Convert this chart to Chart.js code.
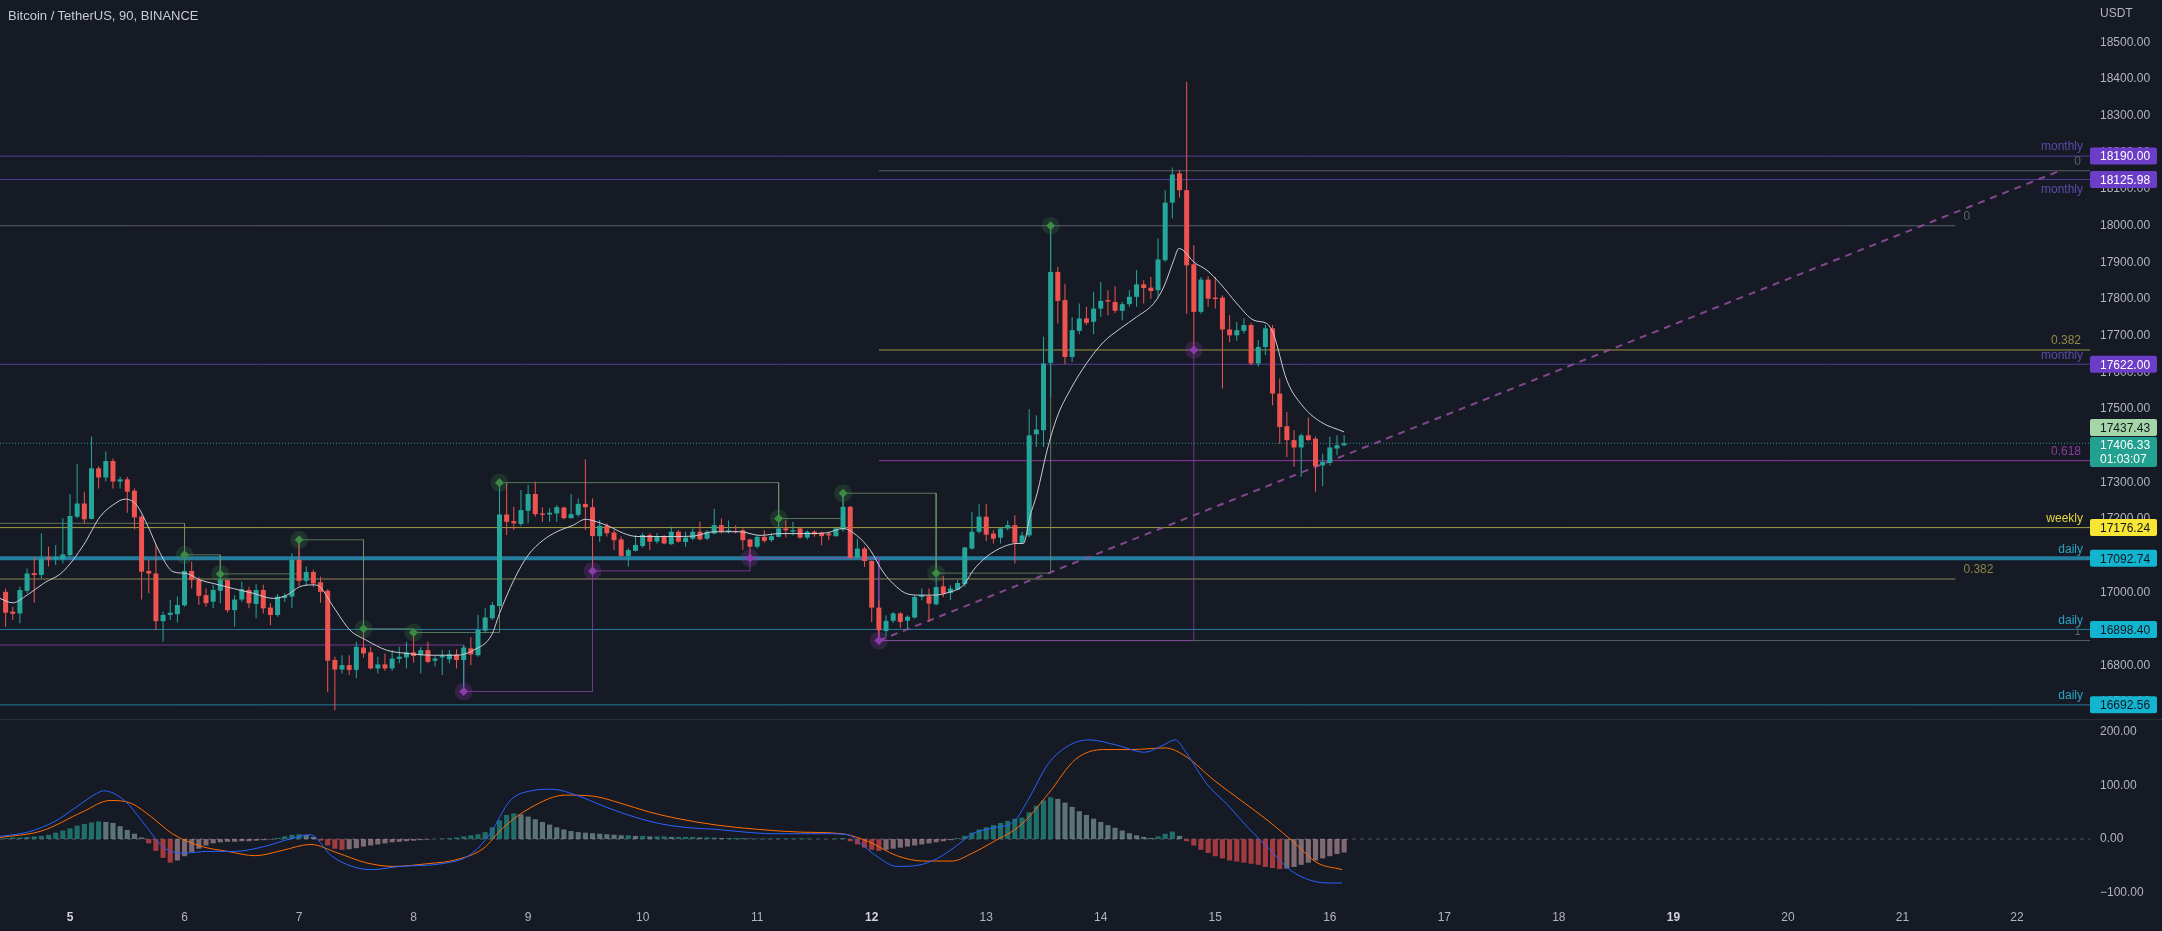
<!DOCTYPE html>
<html><head><meta charset="utf-8">
<script src="https://cdn.jsdelivr.net/npm/chart.js@4.4.1/dist/chart.umd.min.js"></script>
<style>
html,body{margin:0;padding:0;background:#161a25;width:2162px;height:931px;overflow:hidden}
#p1{position:absolute;left:0;top:0;width:2162px;height:719px}
#p2{position:absolute;left:0;top:719px;width:2162px;height:212px}
#sep{position:absolute;left:0;top:719px;width:2162px;height:1px;background:#2a2e39}
#title{position:absolute;left:8px;top:8px;font:13px "Liberation Sans",Arial,sans-serif;color:#c8cbd3}
#cur{position:absolute;left:2100px;top:6px;font:12px "Liberation Sans",Arial,sans-serif;color:#b2b5be}
</style></head><body>
<div id="p1"><canvas id="c1"></canvas></div>
<div id="p2"><canvas id="c2"></canvas></div>
<div id="sep"></div>
<div id="title">Bitcoin / TetherUS, 90, BINANCE</div>
<div id="cur">USDT</div>
<script>
// ---------------- DATA ----------------
const DAY_INDEX = [9,25,41,57,73,89,105,121,137,153,169,185,201,217,233,249,265,281];
const DAY_LABELS = ['5','6','7','8','9','10','11','12','13','14','15','16','17','18','19','20','21','22'];
const WEEK_START = [9,121,233];
const PRICE_TICKS = [16700,16800,16900,17000,17100,17200,17300,17400,17500,17600,17700,17800,17900,18000,18100,18200,18300,18400,18500];
const MACD_TICKS = [-100,0,100,200];

const OPEN = [17001,16947,16942,17004,17052,17047,17095,17090,17090,17101,17206,17242,17200,17338,17313,17358,17302,17308,17277,17206,
17058,17051,16921,16938,16940,16964,17058,17035,16992,16974,17004,17033,16951,16980,17006,16968,17006,16958,16938,16984,
16988,17088,17031,17055,17027,17004,16815,16789,16801,16788,16849,16836,16792,16803,16792,16818,16822,16836,16828,16842,
16813,16822,16817,16830,16815,16847,16828,16895,16929,16962,17212,17194,17186,17222,17268,17215,17212,17215,17231,17202,
17211,17241,17232,17153,17181,17163,17144,17099,17113,17126,17156,17138,17153,17131,17165,17137,17146,17165,17146,17160,
17183,17165,17167,17169,17144,17124,17151,17142,17151,17174,17165,17174,17149,17165,17162,17160,17153,17171,17233,17094,
17119,17085,16958,16894,16922,16942,16922,16931,16987,16989,16967,17016,16998,17007,17022,17119,17165,17206,17160,17149,
17174,17183,17135,17155,17431,17442,17626,17874,17797,17642,17713,17747,17738,17774,17797,17792,17768,17786,17806,17840,
17831,17824,17906,18063,18143,18097,17895,17765,17853,17804,17804,17717,17701,17713,17729,17624,17669,17720,17542,17453,
17415,17395,17428,17419,17346,17353,17392,17401];
const HIGH = [17010,16960,17015,17065,17097,17161,17124,17129,17202,17268,17350,17274,17425,17344,17384,17365,17315,17315,17283,17211,
17088,17129,16947,16979,16988,17097,17083,17042,17010,17020,17056,17035,16992,17029,17015,17022,17020,16970,16995,16997,
17106,17142,17070,17061,17042,17008,16824,16828,16828,16865,16895,16851,16824,16833,16842,16851,16865,16883,16851,16865,
16828,16842,16842,16844,16856,16877,16938,16956,16974,17297,17297,17233,17279,17293,17302,17232,17229,17238,17233,17268,
17256,17363,17256,17197,17188,17170,17152,17120,17156,17162,17161,17161,17156,17179,17170,17165,17174,17192,17169,17228,
17201,17196,17183,17174,17146,17155,17169,17160,17192,17196,17192,17178,17169,17169,17165,17165,17176,17269,17235,17146,
17124,17087,16978,16937,16946,16946,16937,16992,17010,17010,17046,17044,17019,17033,17124,17219,17240,17240,17169,17178,
17196,17210,17165,17499,17483,17697,18000,17888,17842,17751,17788,17779,17820,17847,17824,17835,17792,17824,17879,17851,
17860,17965,18097,18159,18152,18393,17947,17860,17862,17860,17810,17756,17738,17747,17735,17688,17729,17729,17583,17492,
17442,17433,17477,17425,17378,17424,17428,17428];
const LOW = [16906,16924,16915,16997,16971,17038,17070,17074,17079,17097,17202,17188,17199,17283,17302,17283,17283,17217,17172,16980,
16997,16897,16865,16924,16917,16960,17010,16965,16960,16956,16970,16944,16906,16974,16956,16929,16942,16910,16933,16974,
16956,17017,17017,17015,16971,16728,16678,16778,16774,16765,16822,16789,16778,16786,16786,16806,16792,16808,16778,16806,
16797,16774,16806,16792,16733,16801,16824,16888,16924,16960,17156,17170,17181,17188,17206,17192,17192,17192,17199,17202,
17206,17170,17056,17138,17152,17115,17097,17070,17111,17122,17115,17133,17131,17129,17135,17124,17142,17142,17142,17158,
17160,17160,17160,17116,17087,17119,17135,17137,17149,17149,17155,17146,17144,17151,17128,17142,17151,17165,17092,17092,
17069,16919,16869,16878,16916,16903,16901,16928,16978,16919,16964,16987,16978,17005,17014,17116,17160,17140,17133,17133,
17169,17078,17133,17150,17396,17396,17533,17733,17622,17628,17704,17729,17704,17751,17756,17762,17742,17779,17779,17788,
17801,17804,17901,18020,18077,17760,17660,17760,17779,17774,17556,17683,17686,17706,17619,17615,17647,17510,17405,17369,
17342,17315,17413,17274,17289,17346,17374,17398];
const CLOSE = [16944,16941,17006,17051,17047,17092,17090,17095,17103,17208,17242,17199,17338,17313,17358,17302,17308,17274,17204,17056,
17051,16921,16938,16944,16965,17058,17033,16990,16970,17006,17035,16951,16980,17008,16970,17006,16956,16938,16988,16990,
17088,17031,17055,17024,17001,16813,16789,16801,16788,16851,16833,16792,16803,16792,16819,16824,16836,16826,16842,16810,
16819,16828,16831,16815,16849,16830,16897,16931,16965,17212,17192,17188,17224,17268,17213,17211,17217,17232,17202,17213,
17241,17232,17153,17181,17161,17142,17099,17115,17129,17156,17138,17153,17133,17165,17138,17149,17165,17144,17165,17183,
17165,17169,17164,17142,17124,17151,17140,17153,17174,17169,17169,17149,17165,17158,17153,17155,17174,17233,17094,17119,
17085,16958,16896,16922,16942,16919,16933,16987,16992,16969,17014,16996,17010,17025,17122,17165,17206,17157,17146,17174,
17183,17135,17155,17428,17444,17624,17874,17795,17642,17715,17747,17735,17774,17795,17793,17768,17786,17806,17840,17830,
17822,17908,18063,18140,18097,17892,17765,17853,17801,17800,17717,17701,17715,17729,17624,17669,17720,17542,17451,17415,
17395,17428,17415,17344,17356,17395,17401,17406.33];

const EMA_K = [-0.8,1,3,5.3,8,10.9,13.2,15,16.7,18.3,19.7,21.6,23.4,25.3,27.2,29,31.8,34.6,37.4,39.3,41.1,43,43.9,45.8,48.1,50.4,53.2,56,59.8,63,65.4,67.9,69,71,73,75.1,77,79.3,81,82.6,84.4,86.3,88.2,91,93.3,96.1,98.9,102.6,105.4,108.2,112,114.7,117,118.9,120.8,122.6,124.5,125.9,127.8,129.6,131.5,133.8,135.2,137,139.4,141.3,142.2,143.1,144.1,145.5,146.9,148.7,151,153.4,155.7,158,160.4,161.8,163.2,163.9,164.5,166,167.8,169.7,172,174.4,176.2,177.1,179,181.3,183.7,187];
const EMA_V = [16983,16971,16992,17024,17056,17129,17206,17238,17254,17238,17188,17106,17056,17051,17033,17024,17010,16997,16983,16992,17015,17020,17015,16960,16897,16869,16842,16833,16828,16828,16842,16883,16942,17033,17101,17142,17165,17183,17199,17192,17179,17161,17152,17152,17152,17153,17165,17165,17155,17160,17160,17162,17174,17155,17115,17055,17014,16996,16992,16992,16998,17019,17060,17096,17124,17133,17133,17206,17269,17387,17478,17551,17624,17683,17719,17751,17788,17833,17906,17938,17933,17901,17879,17842,17788,17742,17733,17706,17578,17506,17465,17437.43];

const LEVEL_PRICES = [18190.00,18125.98,17622.00,17176.24,17092.74,16898.40,16692.56];
const LEVEL_NAMES = ['monthly','monthly','monthly','weekly','daily','daily','daily'];
const LAST_PRICE = 17406.33;
const EMA_LAST = 17437.43;
const COUNTDOWN = '01:03:07';

const FIB1_PRICES = [18000,17036];
const FIB1_LABELS = ['0','0.382'];
const FIB1_RANGE = [-0.78,272.4];
const FIB2_PRICES = [18150,17661,17359,16868];
const FIB2_LABELS = ['0','0.382','0.618','1'];
const FIB2_RANGE = [122,291.2];

const GREEN_START = 17188;
const GREEN_K = [25,30,41,50,57,69,108,117,130,146];
const GREEN_P = [17102,17050,17143,16900,16890,17299,17201,17270,17052,18000];
const PURPLE_START = 16856;
const PURPLE_K = [64,82,104,122,166];
const PURPLE_P = [16729,17058,17093,16868,17661];
const TREND_K = [122,287];
const TREND_P = [16868,18150];

const HIST = [2,3,3,4,5,6, 8,12,16,20,25, 28,31,33,32,30, 24,17,10,3, -8,-22,-35,-44,-40, -32,-24,-18,-12,-8,
-6,-5,-5,-4,-4,-3,-2,-1, 2,5,8,9,8, 4,-3,-12,-18, -20,-19,-17,-14,-12, -10,-8,-6,-5,-4,-3,-2,-1,0,
1,2,3,5,7,9, 13,22,35,45,48,46, 42,37,32,27,22,18,15, 13,12,11,10,9,8,7,7,6,6,5,
5,5,4,4,4,4,3,3,3,2,2,2,2,1,1,1,1,1,1,1, 1,1,0,0,0,1,2, -4,-10,-16,-20,-22,-20,-18,
-16,-14,-12,-10,-8,-6,-4,-2, 2,6,12,18,22,26,30,34, 38,40,50,62,72,78, 75,68,60,52,45,38,32,
26,21,16,11,7,4,2, 5,10,14, 6,-4,-12, -20,-26,-32,-36,-40,-42,-44,-46,-48,
-52,-54,-56,-55,-52,-48,-44,-40, -36,-32,-28,-25];
const MACD_K = [-0.78,3.1,6.9,9.8,12.7,13.7,16.6,19.5,22.3,25.2,28.1,32,35.8,39.7,42.6,45.5,48.4,51.2,55.1,60.9,64.7,67.6,70.5,73.4,76.3,80.1,84,87.9,91.7,95.6,99.4,103.3,107.1,111,114.8,117.7,119.6,121.6,124.5,127.4,130.2,133.1,135.1,138,140.9,142.8,145.7,148.6,151.4,155.3,159.1,161.7,163.4,164.9,167.8,170.7,173.6,176.5,179.4,182.3,185.2,186.7];
const MACD_V = [5,13,33,59,85,90,72,26,-18,-26,-23,-23,-15,0,8,-31,-51,-57,-51,-46,-31,8,72,90,93,80,59,41,28,21,18,13,10,10,10,8,-10,-31,-51,-49,-36,-10,10,21,33,72,141,175,185,175,162,175,185,162,103,64,21,-18,-57,-77,-82,-82];
const SIG_K = [-0.78,5,10.8,14.6,17.5,20.4,23.3,27.2,31,34.9,38.7,42.6,46.4,50.3,54.1,58.9,62.8,66.7,69.5,73.4,78.2,82.1,85.9,89.8,93.6,99.4,105.2,111,116.8,120.6,124.5,128.3,132.2,135.1,138,141.8,145.7,149.5,153.4,157.2,162,164.9,168.8,172.6,176.5,180.3,183.2,186.7];
const SIG_V = [3,15,51,72,67,41,10,-13,-23,-31,-21,-10,-26,-44,-51,-46,-39,-18,21,59,82,80,67,51,39,26,18,13,10,-5,-31,-41,-41,-26,-5,26,85,149,167,167,170,154,110,72,33,-10,-44,-57];

// ---------------- VIEW ----------------
const X_MIN = -0.78, X_MAX = 291.2;
const P_MIN = 16654, P_MAX = 18616;
const M_MIN = -123, M_MAX = 224;
const UP = '#26a69a', DOWN = '#ef5350';
const FONT = '"Liberation Sans", Arial, sans-serif';
Chart.defaults.font.family = FONT;
Chart.defaults.font.size = 12;
Chart.defaults.animation = false;

const hline = (p, a, b, color, width, dash, order) => ({
  type:'line', data:[{x:a,y:p},{x:b,y:p}], borderColor:color, borderWidth:width||1,
  borderDash:dash||[], pointRadius:0, order:order||10, tension:0
});
const step = (start, ks, ps) => {
  const pts = [{x:X_MIN,y:start}]; let prev = start;
  ks.forEach((k,i)=>{ pts.push({x:k,y:prev}); pts.push({x:k,y:ps[i]}); prev = ps[i]; });
  return pts;
};

const idx = OPEN.map((_,i)=>i);
const candleColor = idx.map(i => CLOSE[i] >= OPEN[i] ? UP : DOWN);

const xScale = (show) => ({
  type:'linear', min:X_MIN, max:X_MAX, offset:false, display:show,
  grid:{display:false, drawTicks:false, offset:false}, border:{display:false},
  afterBuildTicks: sc => { sc.ticks = DAY_INDEX.map(v=>({value:v})); },
  afterFit: sc => { if (show) sc.height = 26; sc.paddingLeft = 0; sc.paddingRight = 0; },
  ticks:{ autoSkip:false, maxRotation:0, padding:5,
    callback:(v,i)=>DAY_LABELS[i],
    color: c => (c.tick && WEEK_START.includes(c.tick.value)) ? '#d1d4dc' : '#b2b5be',
    font: c => ({size:12, family:FONT, weight:(c.tick && WEEK_START.includes(c.tick.value)) ? 'bold':'normal'})
  }
});
const yScale = (min, max, ticks, fmt) => ({
  type:'linear', position:'right', min, max, beginAtZero:false,
  grid:{display:false, drawTicks:true, tickLength:10}, border:{display:false},
  afterFit: s => { s.width = 72; s.paddingTop = 0; s.paddingBottom = 0; },
  afterBuildTicks: s => { s.ticks = ticks.map(v=>({value:v})); },
  ticks:{ color:'#b2b5be', padding:0, autoSkip:false, callback: fmt }
});

const levelStyle = {
  monthly:{line:'rgba(103,74,190,0.75)', text:'#5b4aa8', box:'#6c3ec8', fg:'#ffffff'},
  weekly:{line:'rgba(214,204,70,0.75)', text:'#e3d53c', box:'#f7e634', fg:'#131722'},
  daily:{line:'rgba(40,150,190,0.8)', text:'#2aa5c4', box:'#13b4d0', fg:'#131722'}
};
const levelWidth = [1,1,1,1,4,1,1];
const fib1Colors = ['rgba(120,123,134,0.7)','rgba(170,160,100,0.8)'];
const fib2Colors = ['rgba(120,123,134,0.7)','rgba(190,180,70,0.8)','rgba(160,60,170,0.9)','rgba(120,123,134,0.7)'];
const fib2Text = ['#5d606b','#8f8a46','#8e3a9a','#5d606b'];
const fib1Text = ['#5d606b','#8a8440'];

const datasets1 = [];
datasets1.push({type:'bar', data: idx.map(i=>({x:i, y:[LOW[i],HIGH[i]]})), backgroundColor:candleColor, grouped:false, maxBarThickness:1, order:3});
datasets1.push({type:'bar', data: idx.map(i=>({x:i, y:[Math.min(OPEN[i],CLOSE[i]), Math.max(OPEN[i],CLOSE[i])]})), backgroundColor:candleColor, grouped:false, maxBarThickness:5, minBarLength:1, order:2});
datasets1.push({type:'line', data: EMA_K.map((k,i)=>({x:k,y:EMA_V[i]})), borderColor:'#c9ccd4', borderWidth:1, pointRadius:0, cubicInterpolationMode:'monotone', order:0});
LEVEL_PRICES.forEach((p,i)=>{ const st = levelStyle[LEVEL_NAMES[i]]; datasets1.push(hline(p, X_MIN, X_MAX, st.line, levelWidth[i], [], 12)); });
FIB1_PRICES.forEach((p,i)=>datasets1.push(hline(p, FIB1_RANGE[0], FIB1_RANGE[1], fib1Colors[i], 1, [], 11)));
FIB2_PRICES.forEach((p,i)=>datasets1.push(hline(p, FIB2_RANGE[0], FIB2_RANGE[1], fib2Colors[i], 1, [], 11)));
datasets1.push(hline(LAST_PRICE, X_MIN, X_MAX, 'rgba(38,166,154,0.9)', 1, [1,2], 9));
datasets1.push({type:'line', data: step(GREEN_START, GREEN_K, GREEN_P), borderColor:'rgba(110,150,110,0.75)', borderWidth:1, pointRadius:0, tension:0, order:8});
datasets1.push({type:'line', data: step(PURPLE_START, PURPLE_K, PURPLE_P), borderColor:'rgba(140,70,170,0.75)', borderWidth:1, pointRadius:0, tension:0, order:8});
datasets1.push({type:'line', data: TREND_K.map((k,i)=>({x:k,y:TREND_P[i]})), borderColor:'rgba(150,80,160,0.85)', borderWidth:2, borderDash:[7,6], pointRadius:0, order:7});
const piv = (ks, ps, col, glow) => [
  {type:'line', showLine:false, data: ks.map((k,i)=>({x:k,y:ps[i]})), pointStyle:'circle', pointRadius:9, pointBackgroundColor:glow, pointBorderWidth:0, order:1},
  {type:'line', showLine:false, data: ks.map((k,i)=>({x:k,y:ps[i]})), pointStyle:'rectRot', pointRadius:4.5, pointBackgroundColor:col, pointBorderWidth:0, order:1}
];
datasets1.push(...piv(GREEN_K, GREEN_P, '#3f8a45', 'rgba(60,140,70,0.22)'));
datasets1.push(...piv(PURPLE_K, PURPLE_P, '#8a3aa8', 'rgba(140,60,170,0.25)'));

function rr(ctx,x,y,w,h,r){ctx.beginPath();ctx.moveTo(x+r,y);ctx.lineTo(x+w-r,y);ctx.quadraticCurveTo(x+w,y,x+w,y+r);ctx.lineTo(x+w,y+h-r);ctx.quadraticCurveTo(x+w,y+h,x+w-r,y+h);ctx.lineTo(x+r,y+h);ctx.quadraticCurveTo(x,y+h,x,y+h-r);ctx.lineTo(x,y+r);ctx.quadraticCurveTo(x,y,x+r,y);ctx.closePath();}

const annot = {
  id:'annot',
  afterDraw(chart){
    const {ctx, scales:{x,y}, chartArea} = chart;
    const R = chartArea.right;
    ctx.save();
    ctx.font = '12px '+FONT;
    LEVEL_PRICES.forEach((p,i)=>{
      const py = y.getPixelForValue(p); const st = levelStyle[LEVEL_NAMES[i]];
      const below = (i===1);
      ctx.fillStyle = st.text; ctx.textAlign='right';
      ctx.textBaseline = below ? 'top' : 'bottom';
      ctx.fillText(LEVEL_NAMES[i], R-7, below ? py+4 : py-3);
    });
    FIB2_PRICES.forEach((p,i)=>{
      const py = y.getPixelForValue(p);
      ctx.fillStyle = fib2Text[i]; ctx.textAlign='right'; ctx.textBaseline='bottom';
      ctx.fillText(FIB2_LABELS[i], R-9, py-3);
    });
    FIB1_PRICES.forEach((p,i)=>{
      const py = y.getPixelForValue(p); const px = x.getPixelForValue(FIB1_RANGE[1]);
      ctx.fillStyle = fib1Text[i]; ctx.textAlign='left'; ctx.textBaseline='bottom';
      ctx.fillText(FIB1_LABELS[i], px+8, py-3);
    });
    const box = (cy, h, bg, fg, lines) => {
      ctx.fillStyle = bg; rr(ctx, R, cy-h/2, 67, h, 2); ctx.fill();
      ctx.fillStyle = fg; ctx.textAlign='left'; ctx.textBaseline='middle';
      lines.forEach((t,j)=>ctx.fillText(t, R+10, cy - (lines.length-1)*7 + j*14 + 1));
    };
    LEVEL_PRICES.forEach((p,i)=>{
      const st = levelStyle[LEVEL_NAMES[i]];
      box(y.getPixelForValue(p), 17, st.box, st.fg, [p.toFixed(2)]);
    });
    const ey = y.getPixelForValue(EMA_LAST) - 4.5;
    box(ey, 17, '#a5d6a7', '#131722', [EMA_LAST.toFixed(2)]);
    const top = ey + 8.5 + 1;
    box(top + 15, 30, '#22a090', '#ffffff', [LAST_PRICE.toFixed(2), COUNTDOWN]);
    ctx.restore();
  }
};

new Chart(document.getElementById('c1'), {
  type:'bar',
  data:{datasets:datasets1},
  options:{
    responsive:true, maintainAspectRatio:false, devicePixelRatio:1,
    layout:{padding:0, autoPadding:false},
    plugins:{legend:{display:false}, tooltip:{enabled:false}},
    scales:{ x: xScale(false), y: yScale(P_MIN, P_MAX, PRICE_TICKS, v => v.toFixed(2)) }
  },
  plugins:[annot]
});

const histColor = HIST.map((v,i)=>{
  const prev = i>0 ? HIST[i-1] : v;
  if (v >= 0) return v >= prev ? 'rgba(38,166,154,0.6)' : 'rgba(178,223,219,0.45)';
  return v < prev ? 'rgba(255,82,82,0.6)' : 'rgba(255,205,210,0.45)';
});
new Chart(document.getElementById('c2'), {
  type:'bar',
  data:{datasets:[
    {type:'bar', data: HIST.map((v,i)=>({x:i,y:v})), backgroundColor:histColor, order:3},
    {type:'line', data: MACD_K.map((k,i)=>({x:k,y:MACD_V[i]})), borderColor:'#2962ff', borderWidth:1, pointRadius:0, cubicInterpolationMode:'monotone', order:1},
    {type:'line', data: SIG_K.map((k,i)=>({x:k,y:SIG_V[i]})), borderColor:'#ff6d00', borderWidth:1, pointRadius:0, cubicInterpolationMode:'monotone', order:2},
    hline(0, X_MIN, X_MAX, 'rgba(120,123,134,0.6)', 1, [4,4], 5)
  ]},
  options:{
    responsive:true, maintainAspectRatio:false, devicePixelRatio:1,
    layout:{padding:0, autoPadding:false},
    plugins:{legend:{display:false}, tooltip:{enabled:false}},
    scales:{ x: xScale(true), y: yScale(M_MIN, M_MAX, MACD_TICKS, v => (v<0?'\u2212':'') + Math.abs(v).toFixed(2)) }
  }
});
</script>
</body></html>
